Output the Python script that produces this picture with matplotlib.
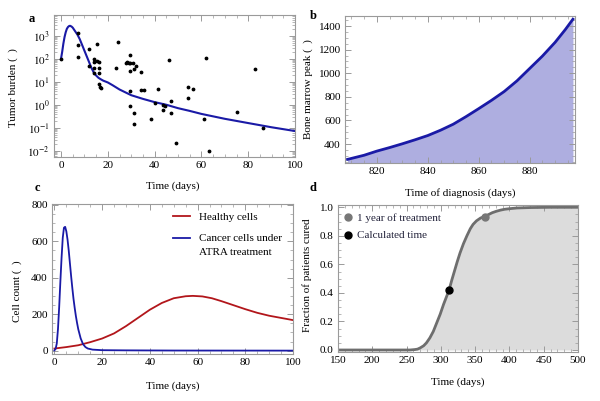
import math
import matplotlib
matplotlib.use("Agg")
import matplotlib.pyplot as plt
from matplotlib.ticker import AutoMinorLocator, LogLocator, FixedLocator, FuncFormatter, NullFormatter

plt.rcParams["font.family"] = ["Liberation Serif", "DejaVu Serif"]
plt.rcParams["mathtext.fontset"] = "stix"
plt.rcParams["font.size"] = 8

# panel a: tumor burden
tumor_x = [0, 0.5, 1, 1.5, 2, 2.5, 3, 3.5, 3.9, 4.5, 5, 6, 7, 8, 9, 10, 11, 12, 13,
           14, 15, 16, 17, 18, 20, 22, 25, 30, 35, 40, 45, 50, 55, 60, 70, 80, 90, 100]
tumor_y = [100, 200, 450, 870, 1410, 2000, 2400, 2650, 2690, 2500, 2240, 1580, 1120,
           710, 400, 224, 126, 71, 40, 25, 18.6, 14.8, 12.8, 11.2, 9.3, 7.1, 4.6, 2.6,
           1.8, 1.3, 1.0, 0.71, 0.54, 0.40, 0.245, 0.16, 0.105, 0.072]
patient_x = [0, 7.1, 7.1, 7.1, 12.1, 12, 14.3, 14.3, 14.3, 14.3, 15.3, 15.3, 16.1,
             16.1, 16.1, 16.3, 16.7, 17, 23.3, 24.3, 27.9, 28.1, 28.9, 29.3, 29.6,
             29.3, 30.6, 31.3, 32.1, 34.3, 29.3, 34.3, 35.3, 29.3, 31.3, 31.3, 38.4,
             40, 41.3, 43.4, 43.4, 44.3, 46.3, 47.1, 47.1, 49.1, 54.3, 54.3, 56.3,
             61.3, 62.1, 63.4, 75.3, 83, 86.3]
patient_y = [100, 1260, 390, 120, 255, 50, 100, 75, 38, 23, 420, 80, 70, 40, 23, 8,
             6, 5.5, 40, 550, 63, 74, 63, 145, 63, 30, 63, 35, 48, 27, 4, 4.4, 4.4,
             0.87, 0.45, 0.145, 0.23, 1.15, 4.7, 1.02, 0.59, 0.87, 87, 1.45, 0.42,
             0.021, 6, 2, 4.7, 0.24, 110, 0.01, 0.5, 35, 0.10]

# panel b: bone marrow peak vs time of diagnosis
diag_x = [808.5, 815, 820, 825, 830, 835, 840, 845, 850, 855, 860, 865, 870, 875,
          880, 885, 890, 894, 897]
diag_y = [270, 305, 340, 370, 402, 436, 472, 517, 568, 632, 700, 770, 845, 935,
          1040, 1145, 1262, 1370, 1458]

# panel c: cell counts
healthy_x = [0, 5, 10, 15, 20, 25, 30, 35, 40, 45, 50, 55, 58, 62, 66, 70, 75, 80,
             85, 90, 95, 100]
healthy_y = [12, 20, 30, 47, 67, 95, 135, 180, 225, 262, 288, 299, 301, 298, 288,
             272, 250, 228, 208, 192, 180, 168]
cancer_x = [0, 0.5, 1, 1.5, 2, 2.5, 3, 3.5, 4, 4.5, 5, 5.5, 6, 6.5, 7, 7.5, 8, 8.5,
            9, 9.5, 10, 11, 12, 13, 14, 16, 20, 30, 50, 100]
cancer_y = [2, 10, 40, 120, 240, 380, 510, 620, 675, 680, 655, 610, 550, 480, 410,
            345, 285, 235, 190, 152, 118, 68, 36, 20, 12, 6, 3, 2, 1, 0.5]

# panel d: fraction of patients cured
cured_x = [150, 200, 255, 262, 266, 270, 275, 279, 284, 289, 294, 299, 304, 308, 312,
           316, 320, 324, 328, 333, 338, 343, 347, 352, 358, 364, 370, 375, 381, 387,
           393, 400, 411, 430, 460, 500]
cured_y = [0, 0, 0, 0.003, 0.006, 0.015, 0.03, 0.05, 0.085, 0.13, 0.19, 0.25, 0.32,
           0.37, 0.42, 0.49, 0.555, 0.62, 0.68, 0.745, 0.80, 0.85, 0.88, 0.905, 0.925,
           0.935, 0.95, 0.962, 0.972, 0.98, 0.986, 0.99, 0.995, 0.998, 1.0, 1.0]
year_pt = (365, 0.935)
calc_pt = (312, 0.42)

blue = "#1a1aa6"
red = "#b2161b"
frame = "#9a9a9a"


def style_axes(ax):
    for s in ax.spines.values():
        s.set_color(frame)
        s.set_linewidth(0.8)
    ax.tick_params(which="both", direction="in", top=True, right=True,
                   color=frame, labelsize=8, pad=3)
    ax.tick_params(which="major", length=4, width=0.7)
    ax.tick_params(which="minor", length=2, width=0.5)


fig = plt.figure(figsize=(6, 4.01), dpi=100)

# a
ax = fig.add_axes([0.09, 0.6085, 0.4017, 0.3541])
ax.plot(tumor_x, tumor_y, color=blue, lw=1.5)
ax.scatter(patient_x, patient_y, s=3, color="black", zorder=3)
ax.set_yscale("log")
ax.set_xlim(-3, 100)
ax.set_ylim(10 ** -2.27, 10 ** 3.9)
ax.set_xticks([0, 20, 40, 60, 80, 100])
ax.xaxis.set_minor_locator(AutoMinorLocator(4))
ax.yaxis.set_major_locator(FixedLocator([1e-2, 1e-1, 1, 10, 100, 1000]))
ax.yaxis.set_major_formatter(FuncFormatter(lambda v, p: r"$10^{%d}$" % round(math.log10(v))))
ax.yaxis.set_minor_locator(LogLocator(subs=range(2, 10)))
ax.yaxis.set_minor_formatter(NullFormatter())
style_axes(ax)
ax.set_xlabel("Time (days)")
ax.set_ylabel("Tumor burden (  )")
ax.xaxis.set_label_coords(0.494, -0.169)
ax.yaxis.set_label_coords(-0.149, 0.49)

# b
ax = fig.add_axes([0.575, 0.5943, 0.3833, 0.3658])
ax.fill_between(diag_x, diag_y, 242, color="#aeaee0", lw=0)
ax.plot(diag_x, diag_y, color=blue, lw=2)
ax.set_xlim(807.5, 897.8)
ax.set_ylim(242, 1485)
ax.set_xticks([820, 840, 860, 880])
ax.set_yticks([400, 600, 800, 1000, 1200, 1400])
ax.xaxis.set_minor_locator(AutoMinorLocator(4))
ax.yaxis.set_minor_locator(AutoMinorLocator(4))
style_axes(ax)
ax.set_xlabel("Time of diagnosis (days)")
ax.set_ylabel("Bone marrow peak (  )")
ax.xaxis.set_label_coords(0.5, -0.172)
ax.yaxis.set_label_coords(-0.139, 0.5)

# c
ax = fig.add_axes([0.0867, 0.1172, 0.4017, 0.374])
ax.plot(healthy_x, healthy_y, color=red, lw=1.3, label="Healthy cells")
ax.plot(cancer_x, cancer_y, color=blue, lw=1.3, label="Cancer cells under")
ax.set_xlim(-1, 100)
ax.set_ylim(-18, 805)
ax.set_xticks([0, 20, 40, 60, 80, 100])
ax.set_yticks([0, 200, 400, 600, 800])
ax.xaxis.set_minor_locator(AutoMinorLocator(4))
ax.yaxis.set_minor_locator(AutoMinorLocator(4))
style_axes(ax)
ax.legend(loc="upper left", bbox_to_anchor=(0.502, 0.945), frameon=False,
          borderpad=0, borderaxespad=0, handlelength=1.55, handletextpad=0.8,
          labelspacing=1.05, fontsize=8)
ax.text(0.61, 0.68, "ATRA treatment", transform=ax.transAxes, va="center", fontsize=8)
ax.set_xlabel("Time (days)")
ax.set_ylabel("Cell count (  )")
ax.xaxis.set_label_coords(0.5, -0.18)
ax.yaxis.set_label_coords(-0.124, 0.42)

# d
ax = fig.add_axes([0.5633, 0.1222, 0.4, 0.3666])
ax.fill_between(cured_x, cured_y, 0, color="#dcdcdc", lw=0)
ax.plot(cured_x, cured_y, color="#6e6e6e", lw=2)
ax.plot(*year_pt, "o", color="#777777", ms=5, label="1 year of treatment", zorder=3)
ax.plot(*calc_pt, "o", color="black", ms=5, label="Calculated time", zorder=3)
ax.set_xlim(150, 500)
ax.set_ylim(-0.014, 1.016)
ax.set_xticks([150, 200, 250, 300, 350, 400, 450, 500])
ax.set_yticks([0, 0.2, 0.4, 0.6, 0.8, 1.0])
ax.yaxis.set_major_formatter(FuncFormatter(lambda v, p: "%.1f" % v))
ax.xaxis.set_minor_locator(AutoMinorLocator(5))
ax.yaxis.set_minor_locator(AutoMinorLocator(4))
style_axes(ax)
leg = ax.legend(loc="upper left", bbox_to_anchor=(0.023, 0.946), frameon=False,
                borderpad=0, borderaxespad=0, handlelength=0.8, handletextpad=0.45,
                labelspacing=0.72, numpoints=1, fontsize=8)
for t in leg.get_texts():
    t.set_color("#22223a")
ax.set_xlabel("Time (days)")
ax.set_ylabel("Fraction of patients cured")
ax.xaxis.set_label_coords(0.498, -0.17)
ax.yaxis.set_label_coords(-0.108, 0.524)

for letter, px, py in [("a", 32, 19), ("b", 313, 16), ("c", 37, 188), ("d", 313, 188)]:
    fig.text(px / 600, 1 - py / 401, letter, fontsize=9, fontweight="bold",
             ha="center", va="center")

plt.savefig("out.png", dpi=100)
